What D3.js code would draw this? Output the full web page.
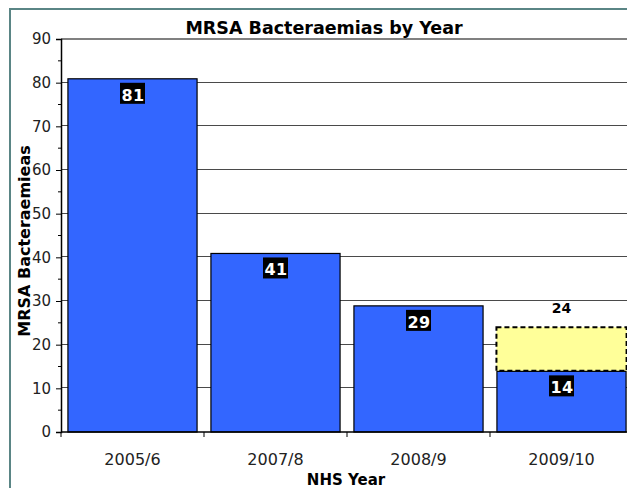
<!DOCTYPE html>
<html>
<head>
<meta charset="utf-8">
<script src="https://cdn.jsdelivr.net/npm/d3@7"></script>
<style>
  html, body { margin: 0; padding: 0; background: #fff; overflow: hidden; }
  svg { display: block; font-family: "DejaVu Sans", Verdana, sans-serif; }
</style>
</head>
<body>
<svg id="chart" width="627" height="488"></svg>
<script>
// NHS years and MRSA bacteraemia counts
const years = ["2005/6", "2007/8", "2008/9", "2009/10"];
const actual = [81, 41, 29, 14];
// projected full-year total for the current year (null where not applicable)
const projected = [null, null, null, 24];
const yTicks = [0, 10, 20, 30, 40, 50, 60, 70, 80, 90];
const yMinorTicks = [5, 15, 25, 35, 45, 55, 65, 75, 85];

const svg = d3.select("#chart");
const plotLeft = 61, plotRight = 633, plotTop = 39, plotBottom = 432;
const fontFam = "DejaVu Sans, Verdana, sans-serif";

// outer chart frame
svg.append("rect")
  .attr("x", 10).attr("y", 9).attr("width", 640).attr("height", 500)
  .attr("fill", "#fff").attr("stroke", "#5a8585").attr("stroke-width", 2);

const x = d3.scaleBand().domain(years).range([plotLeft, plotRight])
  .paddingInner(0.09).paddingOuter(0.045);
const y = d3.scaleLinear().domain([0, 90]).range([plotBottom, plotTop]);

// horizontal gridlines
svg.append("g").selectAll("line")
  .data(yTicks.filter(t => t > 0 && t < 90))
  .join("line")
  .attr("x1", plotLeft).attr("x2", plotRight)
  .attr("y1", d => Math.round(y(d)) - 0.5).attr("y2", d => Math.round(y(d)) - 0.5)
  .attr("stroke", "#4a4a4a").attr("stroke-width", 1);

// plot area top edge
svg.append("line")
  .attr("x1", plotLeft).attr("x2", plotRight).attr("y1", y(90)).attr("y2", y(90))
  .attr("stroke", "#808080").attr("stroke-width", 2);

// projected totals (dashed yellow)
svg.append("g").selectAll("rect")
  .data(years.map((yr, i) => ({ yr, a: actual[i], p: projected[i] })).filter(d => d.p != null))
  .join("rect")
  .attr("x", d => x(d.yr)).attr("width", x.bandwidth())
  .attr("y", d => y(d.p)).attr("height", d => y(d.a) - y(d.p))
  .attr("fill", "#ffff99").attr("stroke", "#000").attr("stroke-width", 2)
  .attr("stroke-dasharray", "5,3");

// actual bars
svg.append("g").selectAll("rect")
  .data(years.map((yr, i) => ({ yr, v: actual[i] })))
  .join("rect")
  .attr("x", d => x(d.yr) + 0.5).attr("width", x.bandwidth() - 1)
  .attr("y", d => y(d.v) + 0.5).attr("height", d => y(0) - y(d.v) - 0.5)
  .attr("fill", "#3366ff").attr("stroke", "#000").attr("stroke-width", 1.2);

// value labels on black boxes
const lab = svg.append("g").selectAll("g")
  .data(years.map((yr, i) => ({ yr, v: actual[i] })))
  .join("g")
  .attr("transform", d => `translate(${x(d.yr) + x.bandwidth() / 2},${y(d.v) + 4.5})`);
lab.append("rect")
  .attr("x", -12.5).attr("y", 0).attr("width", 25).attr("height", 21).attr("fill", "#000");
lab.append("text")
  .attr("x", 0.5).attr("y", 18).attr("text-anchor", "middle")
  .attr("fill", "#fff").attr("font-weight", "bold").attr("font-size", 16)
  .attr("letter-spacing", 0.5)
  .text(d => d.v);

// projected total label
svg.append("g").selectAll("text")
  .data(years.map((yr, i) => ({ yr, p: projected[i] })).filter(d => d.p != null))
  .join("text")
  .attr("x", d => x(d.yr) + x.bandwidth() / 2).attr("y", d => y(d.p) - 14)
  .attr("text-anchor", "middle").attr("font-weight", "bold").attr("font-size", 14)
  .text(d => d.p);

// y axis
const yAxis = svg.append("g").attr("transform", `translate(${plotLeft},0)`)
  .call(d3.axisLeft(y).tickValues(yTicks).tickSize(5).tickPadding(5).tickFormat(d3.format("d")));
yAxis.select(".domain").attr("stroke", "#000").attr("stroke-width", 1.5);
yAxis.selectAll(".tick line").attr("stroke", "#000");
yAxis.selectAll(".tick text").attr("font-size", 15).attr("fill", "#222")
  .attr("font-family", fontFam);
svg.append("g").selectAll("line").data(yMinorTicks).join("line")
  .attr("x1", plotLeft - 3).attr("x2", plotLeft)
  .attr("y1", d => y(d)).attr("y2", d => y(d)).attr("stroke", "#000");

// x axis
const xAxis = svg.append("g").attr("transform", `translate(0,${plotBottom})`)
  .call(d3.axisBottom(x).tickSize(0));
xAxis.select(".domain").remove();
svg.append("line").attr("x1", plotLeft).attr("x2", plotRight).attr("y1", plotBottom).attr("y2", plotBottom)
  .attr("stroke", "#000").attr("stroke-width", 1.5);
xAxis.selectAll(".tick text").attr("font-size", 16).attr("fill", "#222")
  .attr("font-family", fontFam).attr("y", 33).attr("dy", 0);
// category boundary ticks
svg.append("g").selectAll("line")
  .data(years.map(yr => x(yr) - x.step() * x.paddingInner() / 2))
  .join("line")
  .attr("x1", d => d).attr("x2", d => d).attr("y1", plotBottom).attr("y2", plotBottom + 5)
  .attr("stroke", "#000");

// titles
svg.append("text").attr("x", 324).attr("y", 34).attr("text-anchor", "middle")
  .attr("font-weight", "bold").attr("font-size", 17.5).text("MRSA Bacteraemias by Year");
svg.append("text").attr("x", 346).attr("y", 485).attr("text-anchor", "middle")
  .attr("font-weight", "bold").attr("font-size", 15).text("NHS Year");
svg.append("text").attr("transform", "translate(30,241) rotate(-90)").attr("text-anchor", "middle")
  .attr("font-weight", "bold").attr("font-size", 16).text("MRSA Bacteraemieas");
</script>
</body>
</html>
